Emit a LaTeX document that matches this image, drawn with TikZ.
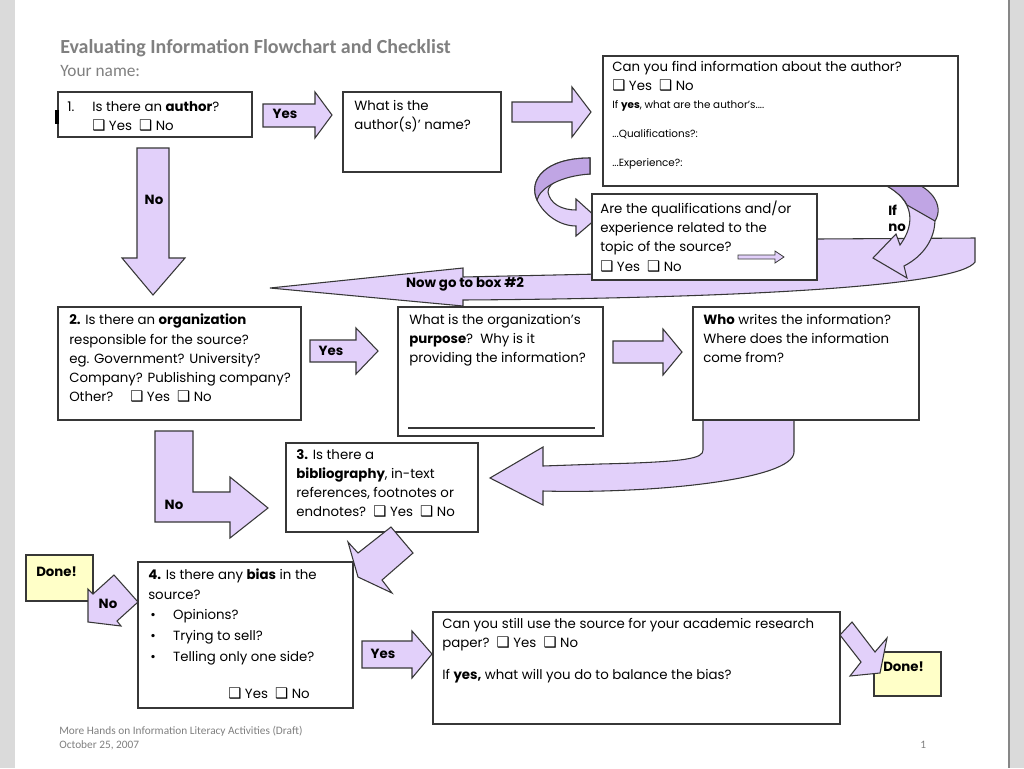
\documentclass[tikz,border=0pt]{standalone}
\usepackage{fontspec}
\setmainfont{Poppins}
\newfontfamily\calibri{Carlito}
\newfontfamily\symfont{DejaVu Sans}
\newcommand{\chk}{{\symfont\fontsize{11}{10}\selectfont ❑}}

\definecolor{lav}{RGB}{226,208,250}
\definecolor{lavdark}{RGB}{192,165,228}
\definecolor{edge}{RGB}{55,55,55}
\definecolor{donefill}{RGB}{255,255,200}
\definecolor{pagegrey}{RGB}{218,218,218}
\definecolor{titlegrey}{RGB}{128,128,128}

\tikzset{
  box/.style={draw=edge, line width=1pt, fill=white},
  donebox/.style={draw=edge, line width=1pt, fill=donefill},
  blockarrow/.style={draw=edge, line width=0.8pt, fill=lav, line join=miter},
  txt/.style={anchor=north west, inner sep=0pt, align=left, font=\fontsize{10}{14.3}\selectfont},
  small/.style={anchor=west, inner sep=0pt, font=\fontsize{7.8}{9}\selectfont},
  lbl/.style={inner sep=0pt, font=\bfseries\fontsize{10}{12}\selectfont},
}

\begin{document}
\begin{tikzpicture}[x=0.75pt,y=-0.75pt]
\useasboundingbox (0,0) rectangle (1024,768);
% page
\fill[pagegrey] (0,0) rectangle (1024,768);
\fill[white] (15,0) rectangle (1008,768);
\draw[edge!60, line width=1.2pt] (1009,0) -- (1009,768);

% title
\node[anchor=west, inner sep=0pt, text=titlegrey, font=\calibri\bfseries\fontsize{15}{17}\selectfont] (title) at (60,48) {Evaluating Information Flowchart and Checklist};
\node[anchor=west, inner sep=0pt, text=titlegrey, font=\calibri\fontsize{13}{15}\selectfont] (yourname) at (60,71) {Your name:};

% arrows lying under the boxes
\draw[blockarrow] (270,288) -- (463,268) -- (463,277) -- (600,274) .. controls (700,262) and (760,240) .. (818,239) -- (975,238) -- (975,262) .. controls (960,285) and (760,298) .. (463,300) -- (463,306) -- cycle;
\node[lbl] (gobox) at (465,284) {Now go to box \#2};
\draw[blockarrow] (703,415) -- (703,450) .. controls (703,458) and (690,462) .. (600,464) -- (543,466) -- (543,447) -- (490,478) -- (543,505) -- (543,491) .. controls (650,494) and (794,480) .. (794,452) -- (794,415) -- cycle;
\draw[blockarrow] (873,180) .. controls (905,190) and (922,215) .. (900,245) -- (896,234) -- (873,258) -- (907,278) -- (904,266) .. controls (945,245) and (945,195) .. (905,180) -- cycle;
\draw[blockarrow, fill=lavdark] (873,180) .. controls (889,185) and (903,196) .. (907,205) -- (935,221) .. controls (945,205) and (930,185) .. (905,180) -- cycle;

% box 1
\draw[box] (58,92) rectangle (252,137);
\fill[black] (55,110) rectangle (59,124);
\node[txt] (q1num) at (67,101) {\vphantom{Ih}1.};
\node[txt] (q1) at (92,101) {Is there an \textbf{author}?\\\chk\ Yes\ \ \chk\ No};
\draw[blockarrow] (263,104) -- (315,104) -- (315,92) -- (332,115) -- (315,138) -- (315,127) -- (263,127) -- cycle;
\node[lbl] (yes1) at (285,114) {Yes};

\draw[box] (343,92) rectangle (501,172);
\node[txt] (aname) at (354,100) {What is the\\author(s)' name?};
\draw[blockarrow] (512,102) -- (572,102) -- (572,87) -- (591,112) -- (572,137) -- (572,122) -- (512,122) -- cycle;

\draw[box] (603,56) rectangle (958,186);
\node[txt] (ainfo) at (612,61) {Can you find information about the author?\\\chk\ Yes\ \ \chk\ No};
\node[small] (ayes) at (612,106) {If \textbf{yes}, what are the author's....};
\node[small] (aqual) at (612,134) {...Qualifications?:};
\node[small] (aexp) at (612,164) {...Experience?:};

% curved arrow to box of qualifications
\draw[blockarrow] (590,158) .. controls (545,158) and (528,180) .. (537,200) .. controls (544,215) and (560,226) .. (576,226) -- (576,236) -- (597,218) -- (576,199) -- (576,210) .. controls (562,210) and (550,204) .. (548,192) .. controls (548,182) and (565,174) .. (590,174) -- cycle;
\draw[blockarrow, fill=lavdark] (590,158) .. controls (545,158) and (528,180) .. (537,200) .. controls (540,188) and (560,176) .. (590,174) -- cycle;

\draw[box] (592,194) rectangle (817,280);
\node[txt] (qrel) at (600,201) {Are the qualifications and/or\\experience related to the\\topic of the source?\\\chk\ Yes\ \ \chk\ No};
\draw[blockarrow, line width=0.6pt] (738,255) -- (775,255) -- (775,251) -- (784,257) -- (775,263) -- (775,259) -- (738,259) -- cycle;
\node[lbl, anchor=west] (ifno) at (888,210) {If};
\node[lbl, anchor=west] (ifno2) at (888,228) {no};

% down arrow
\draw[blockarrow] (137,148) -- (169,148) -- (169,258) -- (185,258) -- (153,295) -- (122,258) -- (137,258) -- cycle;
\node[lbl] (no1) at (154,200) {No};

% row 2
\draw[box] (58,307) rectangle (301,420);
\node[txt] (q2) at (69,314) {\textbf{2.} Is there an \textbf{organization}\\responsible for the source?\\eg. Government? University?\\Company? Publishing company?\\Other?\quad\ \chk\ Yes\ \ \chk\ No};
\draw[blockarrow] (310,340) -- (356,340) -- (356,328) -- (378,351) -- (356,374) -- (356,362) -- (310,362) -- cycle;
\node[lbl] (yes2) at (331,351) {Yes};

\draw[box] (398,307) rectangle (603,436);
\node[txt] (purp) at (409,314) {What is the organization's\\\textbf{purpose}?\ \ Why is it\\providing the information?};
\draw[edge, line width=0.8pt] (408,428) -- (595,428);
\draw[blockarrow] (613,341) -- (663,341) -- (663,329) -- (682,352) -- (663,375) -- (663,363) -- (613,363) -- cycle;

\draw[box] (693,307) rectangle (919,420);
\node[txt] (who) at (703,314) {\textbf{Who} writes the information?\\Where does the information\\come from?};

% row 3
\draw[blockarrow] (155,431) -- (193,431) -- (193,492) -- (230,492) -- (230,477) -- (268,508) -- (230,538) -- (230,522) -- (155,522) -- cycle;
\node[lbl] (no2) at (174,505) {No};

\draw[box] (286,443) rectangle (478,532);
\node[txt] (q3) at (296,449) {\textbf{3.} Is there a\\\textbf{bibliography}, in-text\\references, footnotes or\\endnotes?\ \ \chk\ Yes\ \ \chk\ No};

% row 4
\draw[box] (138,562) rectangle (353,708);
\node[txt] (q4) at (148,569) {\textbf{4.} Is there any \textbf{bias} in the\\source?};
\node[txt] (q4a) at (150,609) {\textbullet\hspace{13pt}Opinions?\\[1.5pt]\textbullet\hspace{13pt}Trying to sell?\\[1.5pt]\textbullet\hspace{13pt}Telling only one side?};
\node[anchor=west, inner sep=0pt, font=\fontsize{10}{12}\selectfont] (q4yn) at (228,694) {\chk\ Yes\ \ \chk\ No};
\draw[blockarrow] (391,527) -- (413,553) -- (382,580) -- (392,593) -- (358,577) -- (348,542) -- (358,553) -- cycle;

\draw[donebox] (26,555) rectangle (93,601);
\node[lbl, anchor=west] (done1) at (36,572) {Done!};
\draw[blockarrow] (114,575) -- (138,602) -- (117,621) -- (121,626) -- (88,622) -- (88,589) -- (93,594) -- cycle;
\node[lbl] (no3) at (108,604) {No};

\draw[blockarrow] (362,641) -- (412,641) -- (412,631) -- (432,654) -- (412,678) -- (412,668) -- (362,668) -- cycle;
\node[lbl] (yes3) at (383,654) {Yes};

\draw[box] (433,612) rectangle (840,724);
\node[txt] (use) at (442,618) {Can you still use the source for your academic research\\paper?\ \ \chk\ Yes\ \ \chk\ No};
\node[txt] (bal) at (442,669) {If \textbf{yes,} what will you do to balance the bias?};

\draw[donebox] (874,652) rectangle (941,696);
\node[lbl, anchor=west] (done2) at (883,667) {Done!};
\draw[blockarrow] (852,622) -- (840,635) -- (861,662) -- (850,676) -- (880,673) -- (887,638) -- (875,652) -- cycle;

% footer
\node[anchor=west, inner sep=0pt, text=titlegrey, font=\calibri\fontsize{8.5}{10}\selectfont] (foot1) at (59,731) {More Hands on Information Literacy Activities (Draft)};
\node[anchor=west, inner sep=0pt, text=titlegrey, font=\calibri\fontsize{8.5}{10}\selectfont] (foot2) at (59,745) {October 25, 2007};
\node[anchor=west, inner sep=0pt, text=titlegrey, font=\calibri\fontsize{8.5}{10}\selectfont] (pagenum) at (920,745) {1};
\end{tikzpicture}
\end{document}
